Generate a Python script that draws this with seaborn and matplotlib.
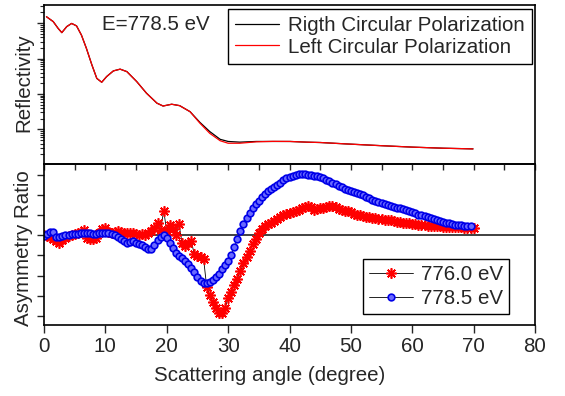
import numpy as np
import matplotlib
matplotlib.use("Agg")
import matplotlib.pyplot as plt
import seaborn as sns
from matplotlib.ticker import MultipleLocator, LogLocator, NullFormatter

# ---- reflectivity (top panel) ----
refl_angle = [0.4, 1.5, 2.3, 2.9, 3.7, 4.5, 5.3, 6.1, 6.9, 7.8, 8.6, 9.4, 10.2, 11.3,
              12.4, 13.5, 15.1, 16.7, 18.4, 19.4, 20.8, 22.1, 23.8, 25.4, 27.0, 28.7,
              30.0, 31.9, 34.6, 37.3, 40.1, 42.8, 45.0, 49.3, 55.0, 60.1, 65.0, 69.9]
refl_right = [0.151, 0.110, 0.0708, 0.0537, 0.0794, 0.0977, 0.0832, 0.0457, 0.0195,
              0.00661, 0.00275, 0.00214, 0.00309, 0.00447, 0.00501, 0.00427, 0.00224,
              0.00105, 0.00055, 0.000457, 0.000513, 0.000468, 0.000316, 0.000158,
              8.71e-5, 5.25e-5, 4.57e-5, 4.37e-5, 4.57e-5, 4.57e-5, 4.57e-5, 4.37e-5,
              4.27e-5, 3.89e-5, 3.47e-5, 3.16e-5, 2.95e-5, 2.82e-5]
refl_left = [0.151, 0.110, 0.0708, 0.0537, 0.0794, 0.0977, 0.0832, 0.0457, 0.0195,
             0.00661, 0.00275, 0.00214, 0.00309, 0.00447, 0.00501, 0.00427, 0.00224,
             0.00105, 0.00055, 0.000457, 0.000513, 0.000468, 0.000316, 0.000150,
             7.76e-5, 4.79e-5, 4.07e-5, 4.07e-5, 4.47e-5, 4.60e-5, 4.57e-5, 4.37e-5,
             4.27e-5, 3.89e-5, 3.47e-5, 3.16e-5, 2.95e-5, 2.82e-5]

# ---- asymmetry ratio (bottom panel) ----
angle_776 = [0.0, 0.5, 1.0, 1.5, 2.0, 2.5, 3.0, 3.5, 4.0, 4.5, 5.0, 5.5, 6.0, 6.5, 7.0,
             7.5, 8.0, 8.5, 9.0, 9.5, 10.0, 10.5, 11.0, 11.5, 12.0, 12.5, 13.0, 13.5,
             14.0, 14.5, 15.0, 15.5, 16.0, 16.5, 17.0, 17.5, 18.0, 18.5, 19.0, 19.5,
             20.0, 20.5, 21.0, 21.5, 22.0, 22.5, 23.0, 23.5, 24.0, 24.5, 25.0, 25.5,
             26.0, 26.5, 27.0, 27.5, 28.0, 28.5, 29.0, 29.5, 30.0, 30.5, 31.0, 31.5,
             32.0, 32.5, 33.0, 33.5, 34.0, 34.5, 35.0, 35.5, 36.0, 36.5, 37.0, 37.5,
             38.0, 38.5, 39.0, 39.5, 40.0, 40.5, 41.0, 41.5, 42.0, 42.5, 43.0, 43.5,
             44.0, 44.5, 45.0, 45.5, 46.0, 46.5, 47.0, 47.5, 48.0, 48.5, 49.0, 49.5,
             50.0, 50.5, 51.0, 51.5, 52.0, 52.5, 53.0, 53.5, 54.0, 54.5, 55.0, 55.5,
             56.0, 56.5, 57.0, 57.5, 58.0, 58.5, 59.0, 59.5, 60.0, 60.5, 61.0, 61.5,
             62.0, 62.5, 63.0, 63.5, 64.0, 64.5, 65.0, 65.5, 66.0, 66.5, 67.0, 67.5,
             68.0, 68.5, 69.0, 69.5, 70.0]
asym_776 = [0.0, -0.005, -0.01, -0.018, -0.03, -0.037, -0.025, -0.012, -0.005, 0.0,
            0.005, 0.01, 0.018, 0.026, -0.012, -0.018, -0.018, -0.012, 0.01, 0.03,
            0.035, 0.015, 0.012, 0.018, 0.02, 0.018, 0.012, 0.01, 0.012, 0.012, 0.008,
            0.003, 0.005, 0.003, 0.01, 0.02, 0.035, 0.062, 0.028, 0.124, 0.02, 0.053,
            0.03, 0.0, 0.057, -0.04, -0.055, -0.038, -0.03, -0.095, -0.105, -0.11,
            -0.117, -0.255, -0.297, -0.33, -0.363, -0.385, -0.388, -0.363, -0.313,
            -0.28, -0.247, -0.215, -0.18, -0.14, -0.11, -0.08, -0.045, -0.02, 0.01,
            0.03, 0.045, 0.055, 0.063, 0.07, 0.08, 0.09, 0.1, 0.106, 0.112, 0.118,
            0.12, 0.127, 0.135, 0.14, 0.148, 0.14, 0.125, 0.13, 0.135, 0.137, 0.14,
            0.145, 0.148, 0.14, 0.13, 0.125, 0.12, 0.122, 0.118, 0.108, 0.103, 0.1,
            0.095, 0.092, 0.09, 0.088, 0.085, 0.083, 0.08, 0.078, 0.077, 0.075, 0.072,
            0.068, 0.065, 0.063, 0.062, 0.06, 0.058, 0.056, 0.053, 0.052, 0.05, 0.049,
            0.048, 0.047, 0.045, 0.045, 0.044, 0.043, 0.042, 0.041, 0.04, 0.04, 0.04,
            0.039, 0.039, 0.038, 0.037]

angle_7785 = [0.0, 0.5, 1.0, 1.5, 2.0, 2.5, 3.0, 3.5, 4.0, 4.5, 5.0, 5.5, 6.0, 6.5, 7.0,
              7.5, 8.0, 8.5, 9.0, 9.5, 10.0, 10.5, 11.0, 11.5, 12.0, 12.5, 13.0, 13.5,
              14.0, 14.5, 15.0, 15.5, 16.0, 16.5, 17.0, 17.5, 18.0, 18.5, 19.0, 19.5,
              20.0, 20.5, 21.0, 21.5, 22.0, 22.5, 23.0, 23.5, 24.0, 24.5, 25.0, 25.5,
              26.0, 26.5, 27.0, 27.5, 28.0, 28.5, 29.0, 29.5, 30.0, 30.5, 31.0, 31.5,
              32.0, 32.5, 33.0, 33.5, 34.0, 34.5, 35.0, 35.5, 36.0, 36.5, 37.0, 37.5,
              38.0, 38.5, 39.0, 39.5, 40.0, 40.5, 41.0, 41.5, 42.0, 42.5, 43.0, 43.5,
              44.0, 44.5, 45.0, 45.5, 46.0, 46.5, 47.0, 47.5, 48.0, 48.5, 49.0, 49.5,
              50.0, 50.5, 51.0, 51.5, 52.0, 52.5, 53.0, 53.5, 54.0, 54.5, 55.0, 55.5,
              56.0, 56.5, 57.0, 57.5, 58.0, 58.5, 59.0, 59.5, 60.0, 60.5, 61.0, 61.5,
              62.0, 62.5, 63.0, 63.5, 64.0, 64.5, 65.0, 65.5, 66.0, 66.5, 67.0, 67.5,
              68.0, 68.5, 69.0, 69.5]
asym_7785 = [-0.005, 0.005, 0.015, 0.015, -0.01, -0.01, -0.005, 0.0, 0.003, 0.005,
             0.007, 0.008, 0.01, 0.011, 0.012, 0.011, 0.009, 0.008, 0.01, 0.012, 0.014,
             0.013, 0.008, 0.0, -0.008, -0.016, -0.028, -0.038, -0.034, -0.03, -0.036,
             -0.045, -0.05, -0.056, -0.066, -0.07, -0.05, -0.025, -0.008, 0.003,
             -0.012, -0.04, -0.065, -0.09, -0.105, -0.115, -0.13, -0.145, -0.163,
             -0.185, -0.205, -0.225, -0.235, -0.238, -0.232, -0.222, -0.205, -0.19,
             -0.168, -0.15, -0.128, -0.098, -0.06, -0.02, 0.02, 0.055, 0.085, 0.11,
             0.135, 0.155, 0.172, 0.19, 0.205, 0.22, 0.232, 0.243, 0.254, 0.264, 0.275,
             0.285, 0.292, 0.298, 0.302, 0.305, 0.307, 0.306, 0.304, 0.302, 0.299,
             0.295, 0.29, 0.285, 0.278, 0.271, 0.264, 0.257, 0.249, 0.241, 0.233,
             0.226, 0.22, 0.216, 0.212, 0.207, 0.2, 0.192, 0.185, 0.178, 0.172, 0.168,
             0.163, 0.157, 0.152, 0.147, 0.143, 0.139, 0.135, 0.131, 0.127, 0.122,
             0.116, 0.11, 0.104, 0.1, 0.095, 0.09, 0.085, 0.08, 0.075, 0.072, 0.068,
             0.064, 0.06, 0.057, 0.054, 0.052, 0.05, 0.048, 0.046, 0.045]

FS = 14.8
sns.set_theme(style="ticks")
plt.rcParams["font.family"] = ["Liberation Sans", "DejaVu Sans"]
plt.rcParams.update({"font.size": FS, "legend.fontsize": FS, "axes.labelsize": FS,
                     "xtick.labelsize": FS, "ytick.labelsize": FS})

fig = plt.figure(figsize=(5.65, 3.96), dpi=100)
ax1 = fig.add_axes([0.0779, 0.5846, 0.869, 0.4028])
ax2 = fig.add_axes([0.0779, 0.1793, 0.869, 0.4053])
ax2.set_facecolor("none")

# top panel: reflectivity
sns.lineplot(x=refl_angle, y=refl_right, ax=ax1, color="black", lw=0.9,
             label="Rigth Circular Polarization", estimator=None, sort=False)
sns.lineplot(x=refl_angle, y=refl_left, ax=ax1, color="red", lw=0.9,
             label="Left Circular Polarization", estimator=None, sort=False)
ax1.set_yscale("log")
ax1.set_ylim(10 ** -4.99, 10 ** -0.49)
ax1.set_xlim(0, 80)
ax1.yaxis.set_major_locator(LogLocator(base=10, numticks=20))
ax1.yaxis.set_minor_locator(LogLocator(base=10, subs=np.arange(2, 10), numticks=20))
ax1.yaxis.set_minor_formatter(NullFormatter())
ax1.tick_params(axis="y", which="both", direction="out", labelleft=False)
ax1.tick_params(axis="y", which="major", length=5, width=1)
ax1.tick_params(axis="y", which="minor", length=3, width=0.8)
ax1.tick_params(axis="x", which="both", bottom=False, labelbottom=False)
ax1.set_ylabel("Reflectivity")
ax1.yaxis.set_label_coords(-0.022, 0.51)
ax1.text(0.118, 0.875, "E=778.5 eV", transform=ax1.transAxes, ha="left", va="center")
leg1 = ax1.legend(loc="upper right", bbox_to_anchor=(0.993, 0.975), borderaxespad=0,
                  handlelength=2.15, handletextpad=0.4, borderpad=0.35, labelspacing=0.12,
                  fancybox=False, edgecolor="black", framealpha=1)
leg1.get_frame().set_linewidth(1.0)

# bottom panel: asymmetry ratio
ax2.axhline(0, color="#333333", lw=1.3, zorder=1)
sns.lineplot(x=angle_776, y=asym_776, ax=ax2, color="black", lw=0.6,
             marker=(8, 2, 0), markersize=7.5, markeredgecolor="red", markerfacecolor="red",
             markeredgewidth=1.2, label="776.0 eV", estimator=None, sort=False)
sns.lineplot(x=angle_7785, y=asym_7785, ax=ax2, color="black", lw=0.6,
             marker="o", markersize=4.8, markerfacecolor="#6a6aff", markeredgecolor="#0000e8",
             markeredgewidth=1.2, label="778.5 eV", estimator=None, sort=False)
ax2.set_xlim(0, 80)
ax2.set_ylim(-0.447, 0.354)
ax2.xaxis.set_major_locator(MultipleLocator(10))
ax2.yaxis.set_major_locator(MultipleLocator(0.1))
ax2.tick_params(axis="y", direction="out", length=5, width=1, labelleft=False)
ax2.tick_params(axis="x", direction="out", length=6, width=1, pad=3)
top = ax2.secondary_xaxis("top")
top.xaxis.set_major_locator(MultipleLocator(5))
top.tick_params(axis="x", direction="in", length=4, width=1, labeltop=False)
ax2.set_ylabel("Asymmetry Ratio")
ax2.yaxis.set_label_coords(-0.022, 0.48)
ax2.set_xlabel("Scattering angle (degree)")
ax2.xaxis.set_label_coords(0.46, -0.255)
leg2 = ax2.legend(loc="lower right", bbox_to_anchor=(0.948, 0.0685), borderaxespad=0,
                  handlelength=2.15, handletextpad=0.4, borderpad=0.3, labelspacing=0.22,
                  numpoints=1, fancybox=False, edgecolor="black", framealpha=1)
leg2.get_frame().set_linewidth(1.0)

for ax in (ax1, ax2):
    for sp in ax.spines.values():
        sp.set_color("black")
        sp.set_linewidth(1.2)
        sp.set_visible(True)

fig.savefig("out.png", dpi=100)
